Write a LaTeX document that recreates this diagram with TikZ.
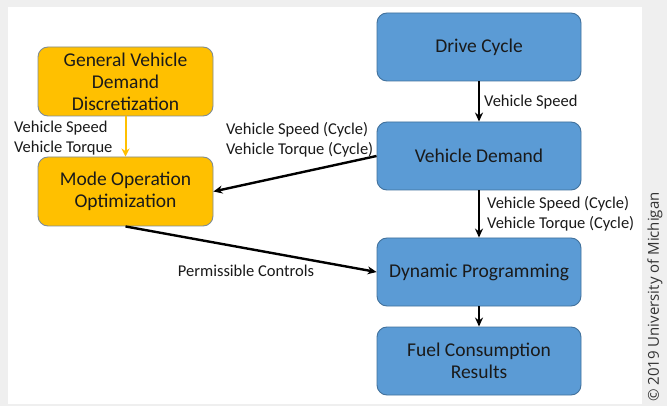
\documentclass[tikz,border=0pt]{standalone}
\usepackage{fontspec}
\setmainfont{Carlito}
\newfontfamily\cpfont{Open Sans}
\usetikzlibrary{arrows.meta}
\definecolor{boxblue}{HTML}{5B9BD5}
\definecolor{blueedge}{HTML}{41719C}
\definecolor{boxgold}{HTML}{FFC000}
\definecolor{goldedge}{HTML}{7F8C95}
\definecolor{pagegray}{HTML}{EFEFEF}
\definecolor{labelgray}{HTML}{1A1A1A}
\tikzset{
  blockbase/.style={draw, line width=0.9pt, rounded corners=10pt, align=center,
    font=\fontsize{19.5}{22}\selectfont, text=labelgray, inner sep=0pt},
  bluebox/.style={blockbase, fill=boxblue, draw=blueedge, minimum width=204pt, minimum height=68pt},
  goldbox/.style={blockbase, fill=boxgold, draw=goldedge, minimum width=175pt, minimum height=69pt},
  flow/.style={line width=2.4pt, draw=black, -{Stealth[length=9pt,width=8pt]}},
  goldflow/.style={line width=2pt, draw=boxgold, -{Stealth[length=8pt,width=8pt]}},
  tag/.style={font=\fontsize{16.5}{20}\selectfont, text=labelgray, inner sep=0pt, align=left}
}
\begin{document}
\begin{tikzpicture}[x=1pt, y=-1pt]
\useasboundingbox (0,0) rectangle (667,406);
% page and panel
\fill[pagegray] (0,0) rectangle (667,406);
\fill[white] (8,7) rectangle (642,404);

% right column
\node[bluebox] (drive) at (479,47) {Drive Cycle};
\node[bluebox] (demand) at (479,156) {Vehicle Demand};
\node[bluebox] (dp) at (479,272) {Dynamic Programming};
\node[bluebox] (fuel) at (479,361) {Fuel Consumption\\Results};

% left column
\node[goldbox] (gvdd) at (125.5,81.5) {General Vehicle\\Demand\\Discretization};
\node[goldbox] (moo) at (125.5,191.5) {Mode Operation\\Optimization};

% connectors
\draw[flow] (drive) -- (demand);
\draw[flow] (demand) -- (dp);
\draw[flow] (dp) -- (fuel);
\draw[goldflow] (gvdd) -- (moo);
\draw[flow] (demand.west) -- (moo.east);
\draw[flow] (moo.south) -- (dp.west);

% connector labels
\node[tag, anchor=west] (l1) at (484,102) {Vehicle Speed};
\node[tag, anchor=west] (l2) at (487,214) {Vehicle Speed (Cycle)\\Vehicle Torque (Cycle)};
\node[tag, anchor=west] (l3) at (14,138) {Vehicle Speed\\Vehicle Torque};
\node[tag, anchor=west] (l4) at (226,140) {Vehicle Speed (Cycle)\\Vehicle Torque (Cycle)};
\node[tag] (l5) at (246,271) {Permissible Controls};

% copyright
\node[rotate=90, anchor=west, font=\cpfont\fontsize{15}{17}\selectfont, text=black!80, inner sep=0pt] (copy) at (655,402) {\textcopyright\ 2019 University of Michigan};
\end{tikzpicture}
\end{document}
